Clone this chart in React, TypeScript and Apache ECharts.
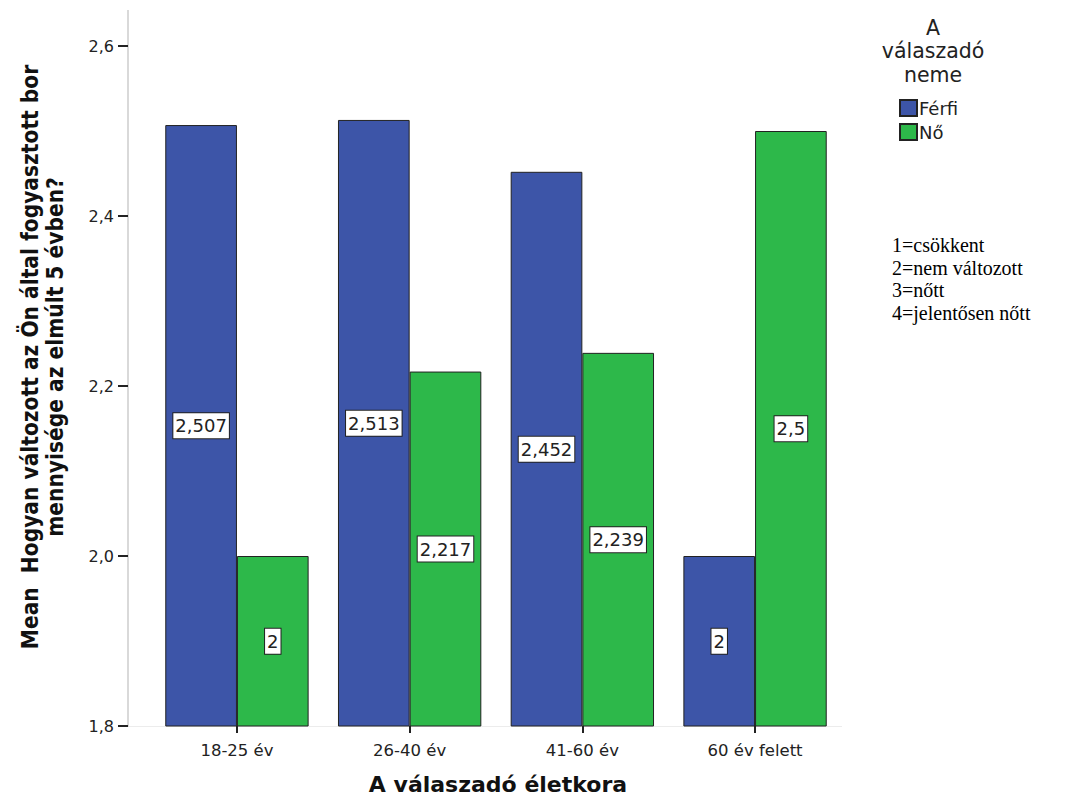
import React, { useEffect, useRef } from "react";
import * as echarts from "echarts";

const categories = ["18-25 év", "26-40 év", "41-60 év", "60 év felett"];
const ferfiValues = [2.507, 2.513, 2.452, 2.0];
const noValues = [2.0, 2.217, 2.239, 2.5];
const seriesNames = ["Férfi", "Nő"];
const legendTitle = "A\nválaszadó\nneme";
const noteLines = ["1=csökkent", "2=nem változott", "3=nőtt", "4=jelentősen nőtt"];
const yTitle = "Mean  Hogyan változott az Ön által fogyasztott bor\nmennyisége az elmúlt 5 évben?";
const xTitle = "A válaszadó életkora";

const fmt = (v: number) => String(Number(v.toFixed(3))).replace(".", ",");

export default function App() {
  const ref = useRef<HTMLDivElement>(null);
  useEffect(() => {
    if (!ref.current) return;
    const chart = echarts.init(ref.current, null, { renderer: "svg" });
    const label = {
      show: true,
      position: "inside",
      formatter: (p: any) => fmt(p.value),
      backgroundColor: "#ffffff",
      borderColor: "#222222",
      borderWidth: 1,
      padding: [4, 2, 3, 2],
      color: "#222222",
      fontSize: 18,
      fontFamily: "DejaVu Sans",
    };
    const noteTexts = noteLines.map((t, i) => ({
      type: "text",
      x: 892,
      y: 245 + i * 22.5,
      style: {
        text: t,
        fontSize: 20,
        fontFamily: "Liberation Serif",
        fill: "#000",
        verticalAlign: "middle",
      },
    }));
    chart.setOption({
      animation: false,
      grid: { left: 150.6, right: 226.6, top: 46, bottom: 72 },
      xAxis: {
        type: "category",
        data: categories,
        axisLine: { show: false },
        axisTick: { show: true, alignWithLabel: true, length: 7, lineStyle: { color: "#222", width: 2 } },
        axisLabel: { color: "#222", fontSize: 16.5, fontFamily: "DejaVu Sans", margin: 16 },
      },
      yAxis: {
        type: "value",
        min: 1.8,
        max: 2.6,
        interval: 0.2,
        offset: 22.6,
        splitLine: { show: false },
        axisLine: { show: true, lineStyle: { color: "#d9d9d9", width: 2 } },
        axisTick: { show: true, length: 10, lineStyle: { color: "#222", width: 2 } },
        axisLabel: {
          color: "#222",
          fontSize: 16,
          fontFamily: "DejaVu Sans",
          margin: 14,
          formatter: (v: number) => v.toFixed(1).replace(".", ","),
        },
      },
      legend: {
        orient: "vertical",
        left: 894,
        top: 94,
        itemWidth: 17,
        itemHeight: 16,
        itemGap: 6,
        icon: "rect",
        textStyle: { fontSize: 18, fontFamily: "DejaVu Sans", color: "#222", padding: [0, 0, 0, -3] },
        data: seriesNames,
      },
      series: [
        {
          name: seriesNames[0],
          type: "bar",
          data: ferfiValues,
          barGap: "0%",
          barCategoryGap: "17%",
          itemStyle: { color: "#3d55a8", borderColor: "#222", borderWidth: 1 },
          label,
        },
        {
          name: seriesNames[1],
          type: "bar",
          data: noValues,
          barGap: "0%",
          barCategoryGap: "17%",
          itemStyle: { color: "#2db84a", borderColor: "#222", borderWidth: 1 },
          label,
        },
      ],
      graphic: [
        { type: "line", shape: { x1: 128, y1: 10, x2: 128, y2: 46 }, style: { stroke: "#d9d9d9", lineWidth: 2 } },
        { type: "line", shape: { x1: 128, y1: 726.5, x2: 842, y2: 726.5 }, style: { stroke: "#ececec", lineWidth: 1 } },
        {
          type: "text",
          x: 933,
          y: 16,
          style: {
            text: legendTitle,
            fontSize: 20.5,
            fontFamily: "DejaVu Sans",
            fill: "#222",
            align: "center",
            lineHeight: 23.5,
          },
        },
        ...noteTexts,
        {
          type: "text",
          x: 498,
          y: 784,
          style: {
            text: xTitle,
            fontSize: 22,
            fontWeight: "bold",
            fontFamily: "DejaVu Sans",
            fill: "#111",
            align: "center",
            verticalAlign: "middle",
          },
        },
        {
          type: "text",
          x: 42,
          y: 357,
          rotation: Math.PI / 2,
          style: {
            text: yTitle,
            fontSize: 22.5,
            fontWeight: "bold",
            fontFamily: "DejaVu Sans Condensed",
            fill: "#111",
            align: "center",
            verticalAlign: "middle",
            lineHeight: 25,
          },
        },
      ],
    });
    return () => chart.dispose();
  }, []);
  return <div ref={ref} style={{ width: 1068, height: 798, position: "absolute", left: 0, top: 0 }} />;
}
